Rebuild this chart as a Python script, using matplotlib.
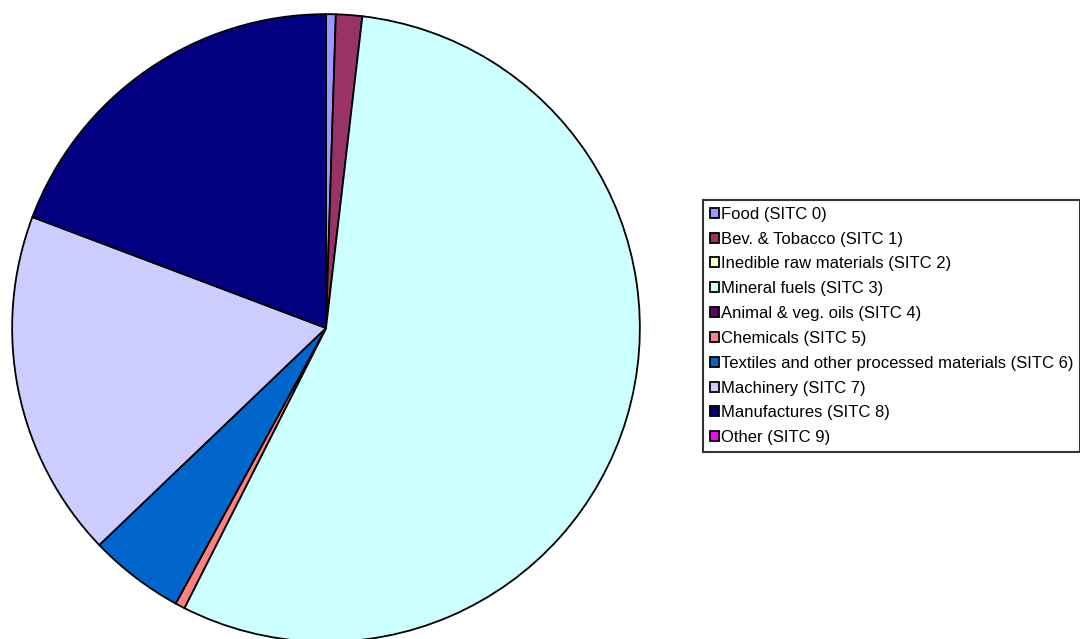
import matplotlib.pyplot as plt
from matplotlib.patches import Patch

# Доли товарных групп (SITC), %
labels = ['Food (SITC 0)', 'Bev. & Tobacco (SITC 1)', 'Inedible raw materials (SITC 2)',
          'Mineral fuels (SITC 3)', 'Animal & veg. oils (SITC 4)', 'Chemicals (SITC 5)',
          'Textiles and other processed materials (SITC 6)', 'Machinery (SITC 7)',
          'Manufactures (SITC 8)', 'Other (SITC 9)']
values = [0.5, 1.35, 0.0, 55.6, 0.0, 0.5, 4.9, 17.9, 19.25, 0.0]
colors = ['#9999FF', '#993366', '#FFFFCC', '#CCFFFF', '#660066', '#FF8080',
          '#0066CC', '#CCCCFF', '#000080', '#FF00FF']

plt.rcParams['font.family'] = ['Liberation Sans', 'DejaVu Sans']

fig = plt.figure(figsize=(10.8, 6.39), dpi=100)
ax = fig.add_axes([9 / 1080, -6 / 639, 634 / 1080, 634 / 639])

# Пустые сектора не рисуем, но в легенде оставляем
vals = [v for v in values if v > 0]
cols = [c for v, c in zip(values, colors) if v > 0]
ax.pie(vals, colors=cols, startangle=90, counterclock=False, radius=1,
       wedgeprops=dict(edgecolor='black', linewidth=1.3))
ax.set_xlim(-1.01, 1.01)
ax.set_ylim(-1.01, 1.01)
ax.axis('off')

handles = [Patch(facecolor=c, edgecolor='black', linewidth=1.3) for c in colors]
leg = fig.legend(handles, labels, loc='upper left', bbox_to_anchor=(703 / 1080, 1 - 200 / 639),
                 fontsize=12, frameon=True, fancybox=False, handlelength=0.55, handleheight=0.55,
                 handletextpad=0.12, labelspacing=0.59, borderpad=0.4, borderaxespad=0)
leg.get_frame().set_edgecolor('black')
leg.get_frame().set_linewidth(1.5)

fig.savefig('out.png', dpi=100)
